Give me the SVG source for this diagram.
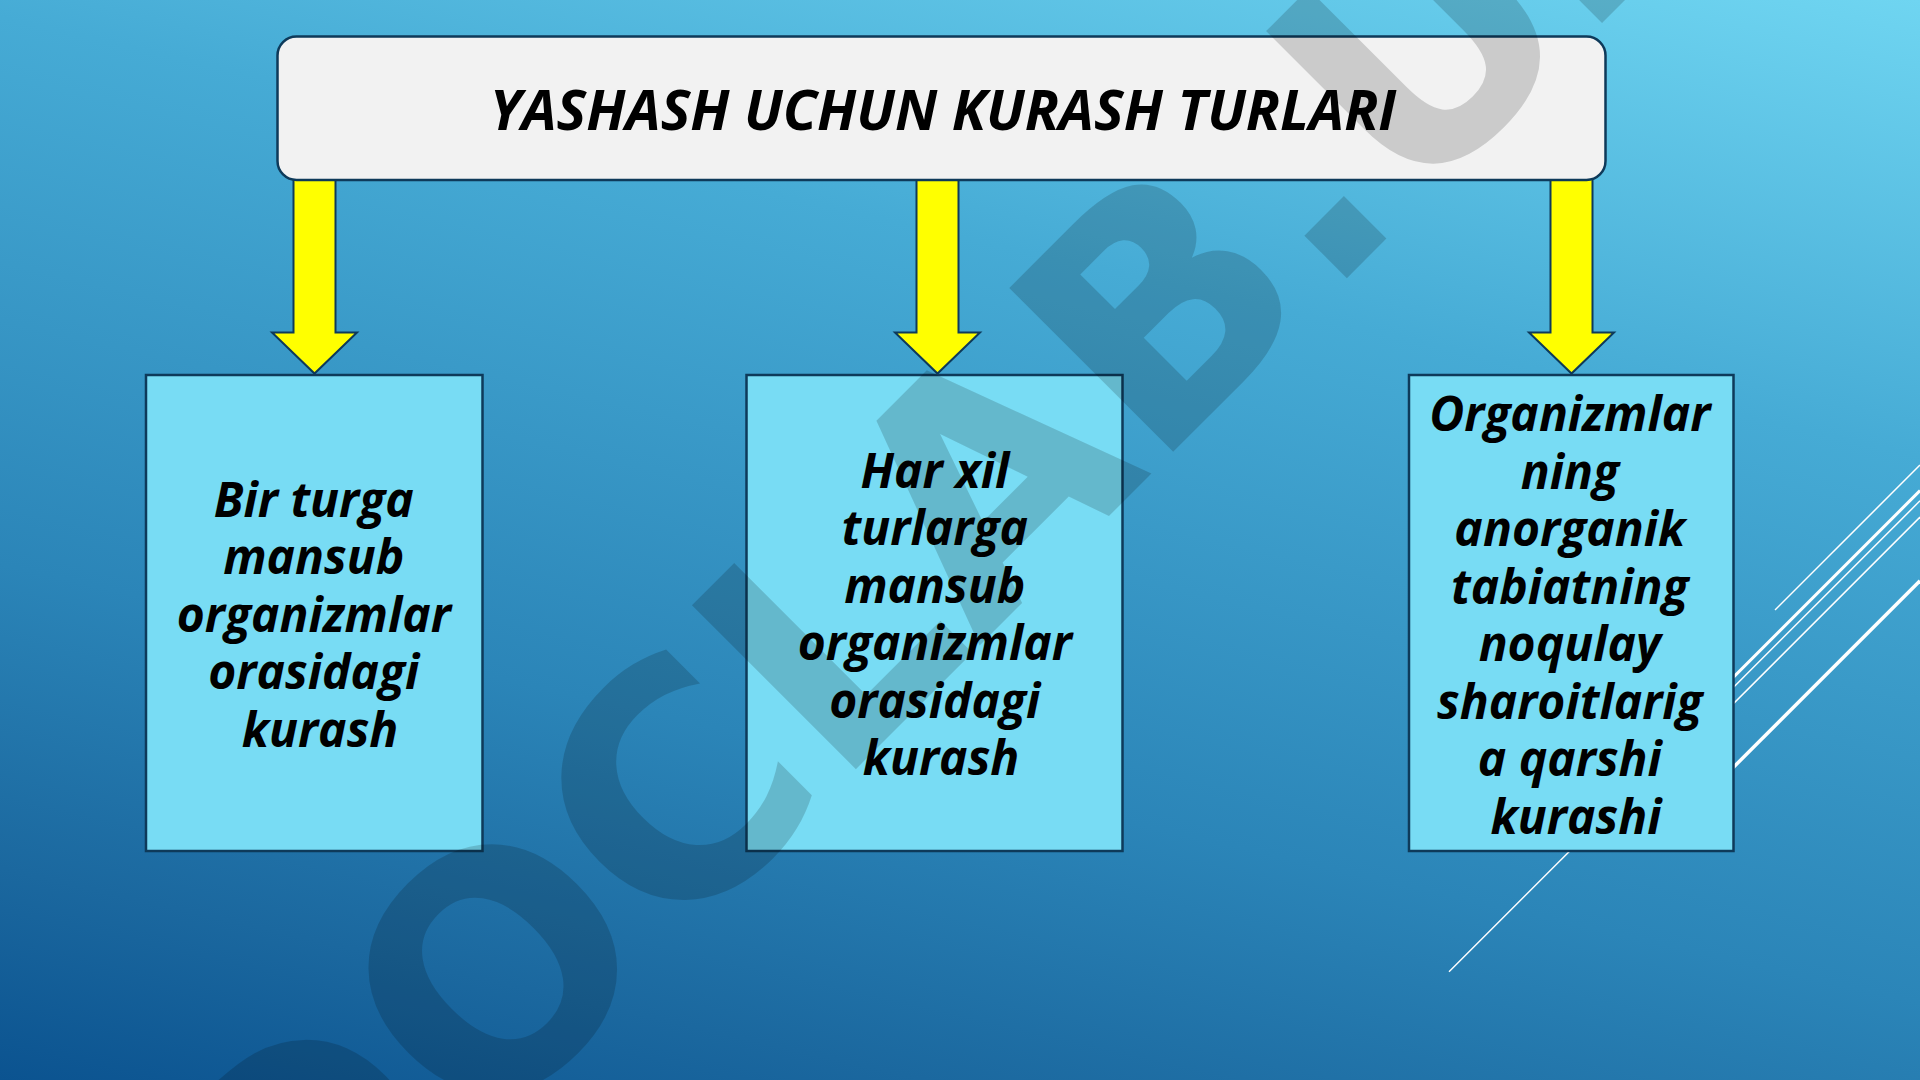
<svg xmlns="http://www.w3.org/2000/svg" width="1920" height="1080" viewBox="0 0 1920 1080">
  <defs>
    <linearGradient id="bg" gradientUnits="userSpaceOnUse" x1="1920" y1="0" x2="1590" y2="1444">
      <stop offset="0" stop-color="#6fd5f1"/>
      <stop offset="0.3" stop-color="#46abd5"/>
      <stop offset="0.66" stop-color="#2b85b8"/>
      <stop offset="0.86" stop-color="#1b689f"/>
      <stop offset="1" stop-color="#0b5390"/>
    </linearGradient>
    <style>
      .box { fill: #78dcf4; stroke: #0e3a5a; stroke-width: 2.5; }
      .title { fill: #f2f2f2; stroke: #0e3a5a; stroke-width: 2.5; }
      .arrow { fill: #ffff00; stroke: #0e3a5a; stroke-width: 2; stroke-linejoin: miter; }
      .txt { font-family: "Open Sans", "Noto Sans", "DejaVu Sans", sans-serif; font-weight: 700; font-style: italic; fill: #000; text-anchor: middle; }
      .ttl { font-size: 56px; }
      .lbl { font-size: 48px; }
      .deco { stroke: #ffffff; fill: none; }
      .wm { font-family: "DejaVu Sans", sans-serif; font-weight: 700; font-size: 318px; fill: #000; fill-opacity: 0.16; }
    </style>
  </defs>

  <rect x="0" y="0" width="1920" height="1080" fill="url(#bg)"/>

  <g id="decor-lines">
    <line class="deco" x1="1775" y1="610" x2="1920" y2="465" stroke-width="1.5"/>
    <line class="deco" x1="1600" y1="810.6" x2="1920" y2="490.6" stroke-width="3"/>
    <line class="deco" x1="1449" y1="971.8" x2="1920" y2="500.8" stroke-width="1.5"/>
    <line class="deco" x1="1600" y1="837.1" x2="1920" y2="517.1" stroke-width="1.5"/>
    <line class="deco" x1="1700" y1="800.7" x2="1920" y2="580.7" stroke-width="3.5"/>
  </g>

  <g id="connectors">
    <polygon class="arrow" points="293.5,170 335.5,170 335.5,332.5 357,332.5 314.5,373.5 272,332.5 293.5,332.5"/>
    <polygon class="arrow" points="916.5,170 958.5,170 958.5,332.5 980,332.5 937.5,373.5 895,332.5 916.5,332.5"/>
    <polygon class="arrow" points="1550.5,170 1592.5,170 1592.5,332.5 1614,332.5 1571.5,373.5 1529,332.5 1550.5,332.5"/>
  </g>

  <g id="node-title">
    <rect class="title" x="277.5" y="36.5" width="1328" height="143.5" rx="19" ry="19"/>
    <text class="txt ttl" x="943" y="130">YASHASH UCHUN KURASH TURLARI</text>
  </g>

  <g id="node-1">
    <rect class="box" x="146" y="375" width="336.5" height="476"/>
    <text class="txt lbl">
      <tspan x="320" y="516.5">Bir turga</tspan>
      <tspan x="320" y="574">mansub</tspan>
      <tspan x="320" y="631.5">organizmlar</tspan>
      <tspan x="320" y="689">orasidagi</tspan>
      <tspan x="320" y="746.5">kurash</tspan>
    </text>
  </g>

  <g id="node-2">
    <rect class="box" x="746.5" y="375" width="376" height="476"/>
    <text class="txt lbl">
      <tspan x="941" y="488">Har xil</tspan>
      <tspan x="941" y="545.4">turlarga</tspan>
      <tspan x="941" y="602.8">mansub</tspan>
      <tspan x="941" y="660.2">organizmlar</tspan>
      <tspan x="941" y="717.6">orasidagi</tspan>
      <tspan x="941" y="775">kurash</tspan>
    </text>
  </g>

  <g id="node-3">
    <rect class="box" x="1409" y="375" width="324.5" height="476"/>
    <text class="txt lbl">
      <tspan x="1576" y="431.4">Organizmlar</tspan>
      <tspan x="1576" y="488.8">ning</tspan>
      <tspan x="1576" y="546.3">anorganik</tspan>
      <tspan x="1576" y="603.7">tabiatning</tspan>
      <tspan x="1576" y="661.2">noqulay</tspan>
      <tspan x="1576" y="718.6">sharoitlarig</tspan>
      <tspan x="1576" y="776.1">a qarshi</tspan>
      <tspan x="1576" y="833.5">kurashi</tspan>
    </text>
  </g>

  <g id="watermark">
    <text class="wm" transform="translate(292.4 1332.6) rotate(-45)">DOCLAB.UZ</text>
  </g>
</svg>
